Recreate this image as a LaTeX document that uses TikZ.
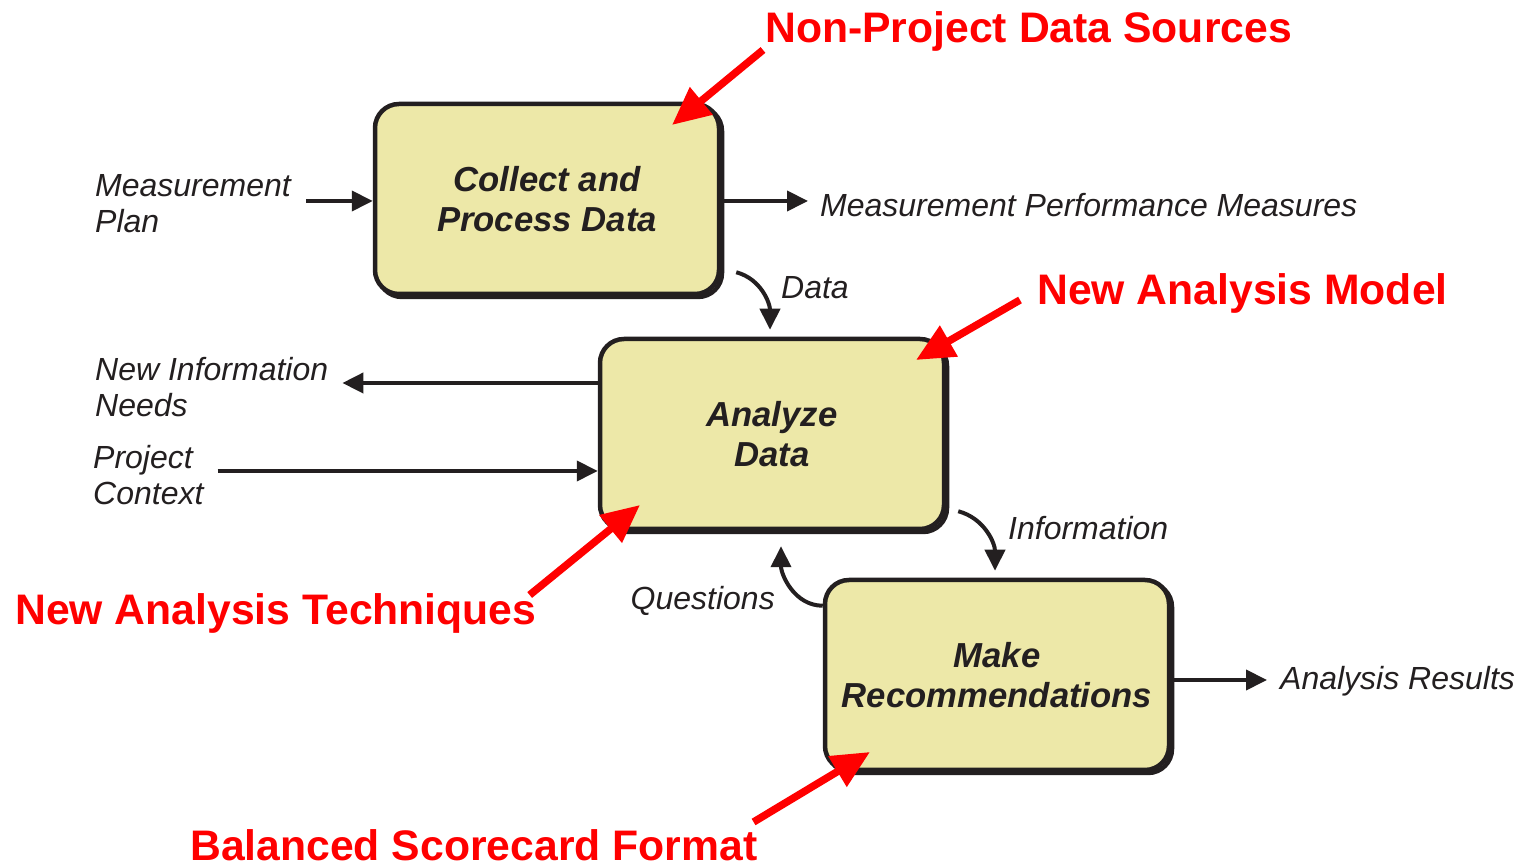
\documentclass[tikz,border=0pt]{standalone}
\usepackage{fontspec}
\setmainfont{Liberation Sans}
\usetikzlibrary{arrows.meta,positioning}
\definecolor{inkdark}{RGB}{35,31,32}
\definecolor{boxfill}{RGB}{237,232,168}
\definecolor{callred}{RGB}{255,0,0}

\begin{document}
\begin{tikzpicture}[
      x=1pt, y=1pt,
      every node/.style={inner sep=0pt, text=inkdark},
      procbox/.style={rounded corners=24pt, draw=inkdark, fill=boxfill,
        line width=4.5pt, minimum width=344pt, minimum height=190pt,
        align=center, font=\fontsize{34.7}{40}\selectfont\bfseries\itshape,
        preaction={draw=inkdark, line width=4.5pt,
          transform canvas={xshift=3pt, yshift=-3pt}}},
      flowlabel/.style={align=left, font=\fontsize{32}{36}\selectfont\itshape},
      callout/.style={text=callred, font=\fontsize{42.7}{48}\selectfont\bfseries},
      arr/.style={draw=inkdark, line width=4pt, -{Triangle[length=21pt,width=20pt]}},
      redarr/.style={draw=callred, line width=7.5pt, -{Triangle[length=38pt,width=34pt]}},
    ]
    \useasboundingbox (0,0) rectangle (1519,864);

    % process boxes
    \node[procbox] (collect) at (547,665) {Collect and\\Process Data};
    \node[procbox] (analyze) at (772,430) {Analyze\\Data};
    \node[procbox] (recommend) at (997,189) {Make\\Recommendations};

    % flow labels
    \node[flowlabel, anchor=west] (plan) at (95,660) {Measurement\\Plan};
    \node[flowlabel, anchor=west] (perf) at (820,659) {Measurement Performance Measures};
    \node[flowlabel, anchor=west] (data) at (781,576) {Data};
    \node[flowlabel, anchor=west] (needs) at (95,477) {New Information\\Needs};
    \node[flowlabel, anchor=west] (context) at (93,389) {Project\\Context};
    \node[flowlabel, anchor=west] (info) at (1008,336) {Information};
    \node[flowlabel, anchor=east] (questions) at (775,263) {Questions};
    \node[flowlabel, anchor=west] (results) at (1280,183) {Analysis Results};

    % flows
    \draw[arr] ([xshift=15pt,yshift=3pt]plan.east) -- ([yshift=3pt]plan.east -| collect.west);
    \draw[arr] ([yshift=4pt]perf.west -| collect.east) -- ([xshift=-12pt,yshift=4pt]perf.west);
    \draw[arr] ([xshift=15pt,yshift=24pt]collect.south east)
      to[out=-15,in=90] ([xshift=-2pt,yshift=7pt]analyze.north);
    \draw[arr] ([yshift=4pt]needs.east -| analyze.west) -- ([xshift=14pt,yshift=4pt]needs.east);
    \draw[arr] ([xshift=14pt,yshift=4pt]context.east) -- ([yshift=4pt]context.east -| analyze.west);
    \draw[arr] ([xshift=12pt,yshift=20pt]analyze.south east)
      to[out=-15,in=90] ([xshift=-2pt,yshift=7pt]recommend.north);
    \draw[arr] ([yshift=-28pt]recommend.north west)
      to[out=180,in=-90] ([xshift=9pt,yshift=-15pt]analyze.south);
    \draw[arr] ([yshift=1pt]results.west -| recommend.east) -- ([xshift=-13pt,yshift=1pt]results.west);

    % callouts
    \node[callout, anchor=west] (nonproj) at (765,833) {Non-Project Data Sources};
    \node[callout, anchor=west] (model) at (1037,571) {New Analysis Model};
    \node[callout, anchor=west] (techniques) at (15,251) {New Analysis Techniques};
    \node[callout, anchor=west] (balanced) at (190,19) {Balanced Scorecard Format};
    \coordinate (nontip) at (672,739);
    \coordinate (modeltip) at (916,504);
    \coordinate (techtip) at (640,359);
    \coordinate (baltip) at (870,112);
    \draw[redarr] ([xshift=-2pt,yshift=-19pt]nonproj.west) -- (nontip);
    \draw[redarr] ([xshift=-17pt,yshift=-7pt]model.west) -- (modeltip);
    \draw[redarr] ([xshift=-7pt,yshift=18pt]techniques.east) -- (techtip);
    \draw[redarr] ([xshift=-4pt,yshift=23pt]balanced.east) -- (baltip);
\end{tikzpicture}
\end{document}
